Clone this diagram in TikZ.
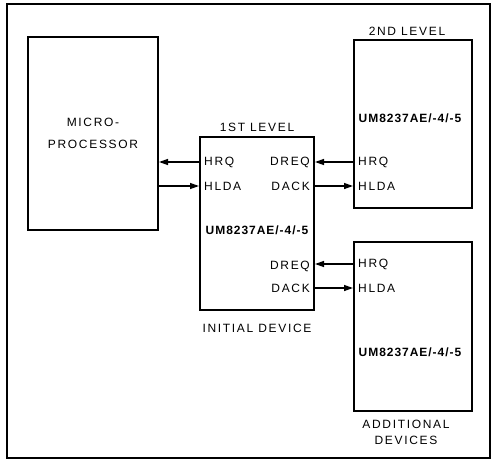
\documentclass[tikz,border=0pt]{standalone}
\usepackage{fontspec}
\setmainfont{Liberation Sans}[LetterSpace=14]
\newfontfamily\chipfont{Liberation Sans}[LetterSpace=8]
\usetikzlibrary{arrows.meta,calc}

\tikzset{
  chip/.style={draw, line width=2pt, inner sep=0pt},
  pin/.style={inner sep=1pt, font=\fontsize{12}{14}\selectfont},
  partno/.style={inner sep=0pt, font=\chipfont\bfseries\fontsize{12}{14}\selectfont},
  caption/.style={inner sep=0pt, align=center, font=\fontsize{12}{16}\selectfont},
  bus/.style={line width=1.3pt, -{Triangle[length=9pt,width=6pt]}}
}

\begin{document}
\begin{tikzpicture}[x=1pt,y=-1pt]
\useasboundingbox (0,0) rectangle (492,461);
\draw [line width=2.5pt] (7,4) rectangle (490,458); % frame

% boxes
\node [chip, minimum width=130pt, minimum height=193pt, align=center,
       font=\fontsize{12}{22}\selectfont] (mp) at (93,133.5) {MICRO-\\PROCESSOR};
\node [chip, minimum width=114pt, minimum height=173pt] (lvl1) at (257,223.5) {};
\node [chip, minimum width=118pt, minimum height=168pt] (lvl2) at (413,124) {};
\node [chip, minimum width=118pt, minimum height=169pt] (more) at (413,326.5) {};

% box captions
\node [caption] (cap1) at (257,127) {1ST LEVEL};
\node [caption] (cap2) at (407,31) {2ND LEVEL};
\node [caption] (cap3) at (257,328) {INITIAL DEVICE};
\node [caption] (cap4) at (406,432) {ADDITIONAL\\DEVICES};

% part numbers
\node [partno] (pn1) at (257,230) {UM8237AE/-4/-5};
\node [partno] (pn2) at (410,118) {UM8237AE/-4/-5};
\node [partno] (pn3) at (410,352) {UM8237AE/-4/-5};

% pins of the 1st level
\node [pin, right] (hrq1) at (203,162) {HRQ};
\node [pin, right] (hlda1) at (203,186) {HLDA};
\node [pin, left] (dreqa) at (311,162) {DREQ};
\node [pin, left] (dacka) at (311,186) {DACK};
\node [pin, left] (dreqb) at (311,266) {DREQ};
\node [pin, left] (dackb) at (311,288) {DACK};

% pins of the 2nd level and of the additional devices
\node [pin, right] (hrq2) at (357,162) {HRQ};
\node [pin, right] (hlda2) at (357,186) {HLDA};
\node [pin, right] (hrq3) at (357,264) {HRQ};
\node [pin, right] (hlda3) at (357,288) {HLDA};

% connections
\draw [bus] (hrq1.west -| lvl1.west) -- (hrq1.west -| mp.east);
\draw [bus] (hlda1.west -| mp.east) -- (hlda1.west -| lvl1.west);
\draw [bus] (hrq2.west -| lvl2.west) -- (hrq2.west -| lvl1.east);
\draw [bus] (hlda2.west -| lvl1.east) -- (hlda2.west -| lvl2.west);
\draw [bus] (hrq3.west -| more.west) -- (hrq3.west -| lvl1.east);
\draw [bus] (hlda3.west -| lvl1.east) -- (hlda3.west -| more.west);
\end{tikzpicture}
\end{document}
